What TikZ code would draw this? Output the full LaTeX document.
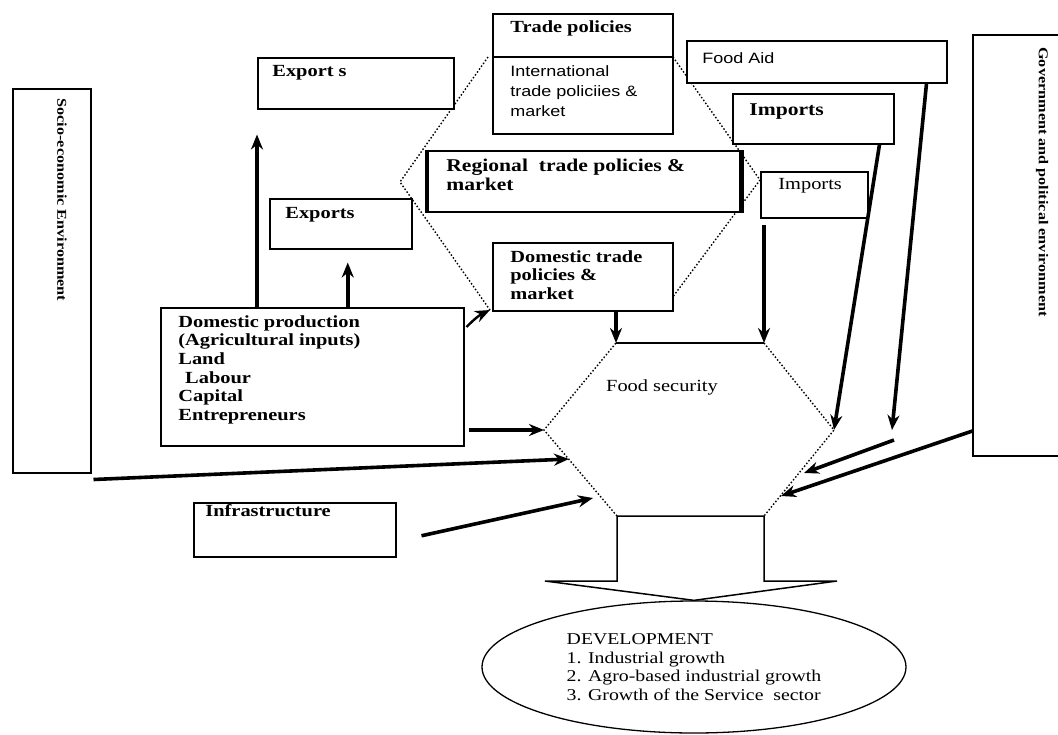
\documentclass[tikz,border=0pt]{standalone}
\usepackage{fontspec}
\setmainfont{Liberation Serif}[FakeStretch=1.2]
\newfontfamily\sansfnt{Liberation Sans}[FakeStretch=1.2]
\usetikzlibrary{positioning,calc,shapes.geometric}
\usetikzlibrary{arrows.meta}

\tikzset{
  box/.style={draw, line width=1.5pt, fill=white, rectangle, inner sep=0pt, anchor=north west},
  txt/.style={inner sep=0pt, anchor=west, align=left, font=\fontsize{17}{18.6}\selectfont\bfseries},
  plain/.style={inner sep=0pt, anchor=west, font=\fontsize{17}{18.6}\selectfont},
  side/.style={inner sep=0pt, rotate=-90, font=\fontsize{13.5}{15}\selectfont\bfseries},
  arr/.style={->, line width=3.6pt},
  dots/.style={dash pattern=on 1.5pt off 2pt, line width=1.4pt},
}

\begin{document}
\begin{tikzpicture}[>={Stealth[length=15pt, width=12pt]}, x=1pt, y=-1pt, thick]
    \useasboundingbox (0,0) rectangle (1058,734);

    % dotted hexagon behind the trade boxes
    \coordinate (h1) at (488,57);
    \coordinate (h2) at (400,182);
    \coordinate (h3) at (490,310);
    \coordinate (h4) at (673,57);
    \coordinate (h5) at (760,180);
    \coordinate (h6) at (672,298);
    \draw [dots] (h1) -- (h2) -- (h3);
    \draw [dots] (h4) -- (h5) -- (h6);

    % food security hexagon
    \coordinate (fs-tl) at (616,343);
    \coordinate (fs-tr) at (764,343);
    \coordinate (fs-r) at (834,430);
    \coordinate (fs-br) at (764,516);
    \coordinate (fs-bl) at (617,516);
    \coordinate (fs-l) at (544,430);
    \draw [line width=1.5pt] (fs-tl) -- (fs-tr);
    \draw [dots] (fs-tr) -- (fs-r) -- (fs-br);
    \draw [dots] (fs-bl) -- (fs-l) -- (fs-tl);
    \node [plain, anchor=center] (fs) at (662,387) {Food security};

    \node [draw, ellipse, line width=1.3pt, inner sep=0pt, minimum width=424, minimum height=132,
           align=left, font=\fontsize{16.5}{18.6}\selectfont] (dev) at (694,667)
        {DEVELOPMENT\\1. Industrial growth\\2. Agro-based industrial growth\\3. Growth of the Service\ \ sector};

    % wide arrow down to development
    \draw [line width=1.5pt] (fs-bl) -- (fs-br) -- (764,581) -- (837,581) -- (dev.north)
        -- (545,581) -- (617,581) -- cycle;

    % side boxes
    \node [box, minimum width=78, minimum height=384] (socio) at (12,88) {};
    \node [side] (socio-t) at (62,200) {Socio-economic Environment};
    \node [inner sep=0pt, anchor=north west, minimum width=85, minimum height=420] (gov) at (973,35) {};
    \draw [line width=1.5pt] (gov.north east) -- (gov.north west) -- (gov.south west) -- (gov.south east);
    \node [side] (gov-t) at (1042,182) {Government and political environment};

    % boxes
    \node [box, minimum width=196, minimum height=51] (exp1) at (257,57) {};
    \node [txt] (exp1-t) at (272,73) {Export s};
    \node [box, minimum width=180, minimum height=120] (tp) at (492,13) {};
    \draw [line width=1.5pt] ($(tp.north west)+(0,44)$) -- ($(tp.north east)+(0,44)$);
    \node [txt] (tp-t) at (510,28) {Trade policies};
    \node [txt, anchor=north west, font=\fontsize{15}{20}\sansfnt] (tp-int) at (510,65)
        {International\\trade policiies \&\\market};
    \node [box, minimum width=260, minimum height=42] (fa) at (686,40) {};
    \node [plain, font=\fontsize{15}{18}\sansfnt] (fa-t) at (702,58) {Food Aid};
    \node [box, minimum width=161, minimum height=50] (imp1) at (732,93) {};
    \node [txt, font=\fontsize{18}{19}\selectfont\bfseries] (imp1-t) at (749,112) {Imports};
    \node [box, minimum width=313, minimum height=61] (reg) at (427,150) {};
    \draw [line width=4.5pt] (reg.north west) -- (reg.south west);
    \draw [line width=4.5pt] (reg.north east) -- (reg.south east);
    \node [txt, anchor=north west, font=\fontsize{18}{19}\selectfont\bfseries] (reg-t) at (446,159)
        {Regional\ \ trade policies \&\\market};
    \node [box, minimum width=107, minimum height=46] (imp2) at (760,171) {};
    \node [plain] (imp2-t) at (778,186) {Imports};
    \node [box, minimum width=142, minimum height=50] (exp2) at (269,198) {};
    \node [txt] (exp2-t) at (285,215) {Exports};
    \node [box, minimum width=180, minimum height=68] (dt) at (492,242) {};
    \node [txt, anchor=north west] (dt-t) at (510,250) {Domestic trade\\policies \&\\market};
    \node [box, minimum width=303, minimum height=138] (dp) at (160,307) {};
    \node [txt, anchor=north west] (dp-t) at (178,315)
        {Domestic production\\(Agricultural inputs)\\Land\\\hspace{0.4em}Labour\\Capital\\Entrepreneurs};
    \node [box, minimum width=202, minimum height=54] (infra) at (193,502) {};
    \node [txt] (infra-t) at (205,511) {Infrastructure};

    % arrows
    \draw [arr, shorten >=25pt] (exp1.south west |- dp.north) -- (exp1.south west);
    \draw [arr, shorten >=13pt] ($(exp2.south |- dp.north)+(7,0)$) -- ($(exp2.south)+(7,0)$);
    \draw [arr, line width=2.4pt] ($(dp.north east)+(2,20)$) to [bend left=10] (h3);
    \draw [arr] (fs-tl |- dt.south) -- (fs-tl);
    \draw [arr, shorten <=6pt] (fs-tr |- imp2.south) -- (fs-tr);
    \draw [arr] ($(imp1.south east)+(-15,0)$) -- (fs-r);
    \coordinate (fa-end) at (892,430);
    \draw [arr] ($(fa.south east)+(-21,0)$) -- (fa-end);
    \coordinate (aid-a) at (894,440);
    \coordinate (aid-b) at (804,473);
    \draw [arr] (aid-a) -- (aid-b);
    \coordinate (gov-end) at (781,496);
    \draw [arr] ($(gov.south west)+(0,-25)$) -- (gov-end);
    \draw [arr, shorten <=4pt] (dp.east |- fs-l) -- (fs-l);
    \coordinate (soc-end) at (569,459);
    \draw [arr] ($(socio.south east)+(2,6)$) -- (soc-end);
    \coordinate (inf-end) at (593,498);
    \draw [arr] ($(infra.east)+(25,6)$) -- (inf-end);

\end{tikzpicture}
\end{document}
